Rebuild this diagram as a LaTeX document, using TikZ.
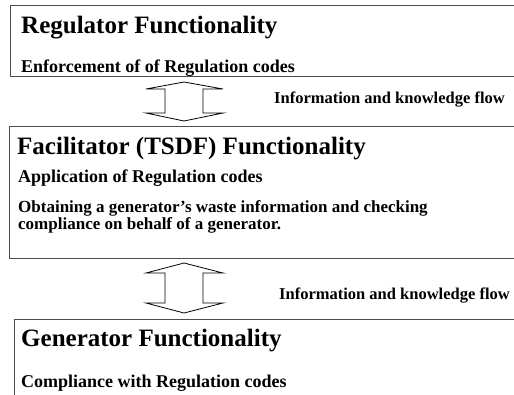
\documentclass[tikz,border=0pt]{standalone}
\usepackage{fontspec}
\setmainfont{Liberation Serif}
\usetikzlibrary{calc}
\tikzset{
  box/.style={draw=black!70, line width=1pt, inner sep=0pt, anchor=north west},
  ttl/.style={anchor=base west, inner sep=0pt, font=\fontsize{25}{30}\selectfont\bfseries},
  sub/.style={anchor=base west, inner sep=0pt, font=\fontsize{18}{20}\selectfont\bfseries},
  subs/.style={anchor=base west, inner sep=0pt, font=\fontsize{17}{20}\selectfont\bfseries},
  lbl/.style={anchor=base west, inner sep=0pt, font=\fontsize{16.5}{20}\selectfont\bfseries},
  flow/.style={draw=black, line width=0.8pt, line join=miter}
}
\begin{document}
\begin{tikzpicture}[x=1pt,y=-1pt]
\useasboundingbox (0,0) rectangle (514,394);
\clip (0,0) rectangle (514,394);
% boxes
\node[box, minimum width=530pt, minimum height=71pt] (reg) at (9.5,5) {};
\node[box, minimum width=530pt, minimum height=132pt] (fac) at (8.5,126) {};
\node[box, minimum width=530pt, minimum height=100pt] (gen) at (14,318.5) {};
% texts
\node[ttl] (regT) at (21,33) {Regulator Functionality};
\node[sub] (regS) at (21,72) {Enforcement of of Regulation codes};
\node[ttl] (facT) at (17,154) {Facilitator (TSDF) Functionality};
\node[sub] (facS) at (18,182) {Application of Regulation codes};
\node[subs] (facO1) at (18,212) {Obtaining a generator’s waste information and checking};
\node[subs] (facO2) at (18,229.5) {compliance on behalf of a generator.};
\node[ttl] (genT) at (21,346) {Generator Functionality};
\node[sub] (genS) at (21,387) {Compliance with Regulation codes};
% flow labels
\node[lbl] (lbl1) at (274,103) {Information and knowledge flow};
\node[lbl] (lbl2) at (279,299) {Information and knowledge flow};
% double arrows
\coordinate (arr1) at (184,101.5);
\coordinate (arr2) at (184,288);
\draw[flow] ($(arr1)+(0,-19.5)$) -- ++(39,7) -- ++(-20,0) -- ++(0,24) -- ++(20,0)
  -- ++(-39,8) -- ++(-38,-8) -- ++(19,0) -- ++(0,-24) -- ++(-19,0) -- cycle;
\draw[flow] ($(arr2)+(0,-25)$) -- ++(39,10) -- ++(-20,0) -- ++(0,30) -- ++(20,0)
  -- ++(-39,10) -- ++(-38,-10) -- ++(19,0) -- ++(0,-30) -- ++(-19,0) -- cycle;
\end{tikzpicture}
\end{document}
